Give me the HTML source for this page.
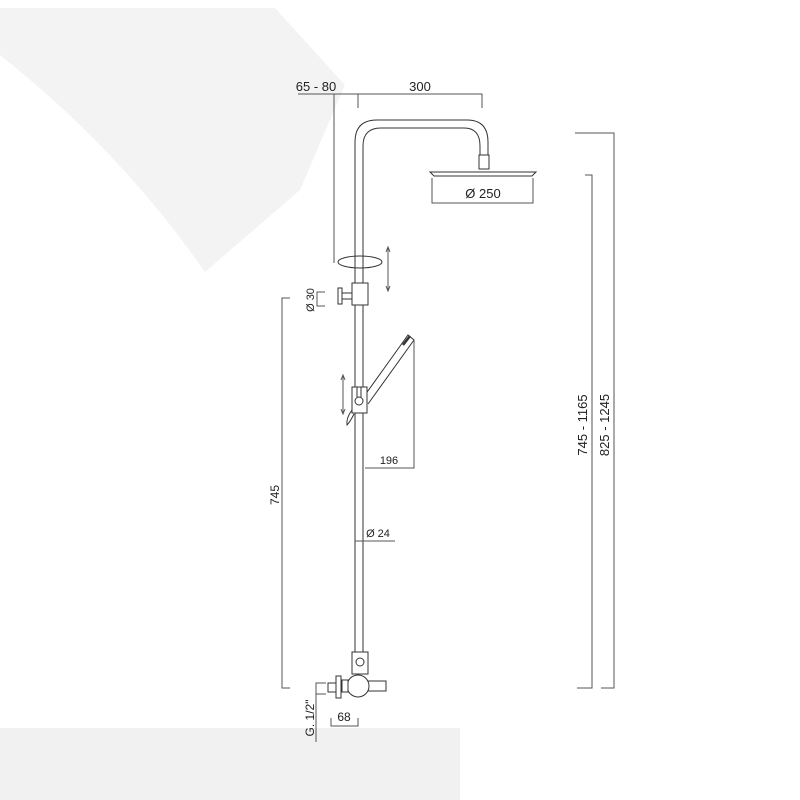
<!DOCTYPE html>
<html><head><style>body{margin:0;background:#fff}svg{display:block}text{font-family:"Liberation Sans",sans-serif;fill:#222}</style></head><body>
<svg width="800" height="800" viewBox="0 0 800 800" xmlns="http://www.w3.org/2000/svg">
<path d="M0,8 L275,8 L345,85 L300,190 L205,272 Q120,150 0,55 Z" fill="#f3f3f3"/>
<rect x="0" y="728" width="460" height="72" fill="#f1f1f1"/>
<g fill="none" stroke="#333" stroke-width="1">
<!-- pipe -->
<path d="M355,655 V142 Q355,120 377,120 H467 Q488,120 488,142 V155"/>
<path d="M363,655 V146 Q363,128 381,128 H464 Q480,128 480,146 V155"/>
<rect x="479" y="155" width="10" height="14"/>
<path d="M430,172 H536 L532,176 H434 Z"/>
<!-- top dims -->
<path d="M298,94 H482 V108 M358,94 V108 M334,94 V263" stroke="#555"/>
<path d="M432,178 V203 H533 V178" stroke="#555"/>
<ellipse cx="360" cy="262" rx="22" ry="6"/>
<path d="M388,248 V290 M386,252 L388,247 L390,252 M386,286 L388,291 L390,286" stroke="#555"/>
<!-- clamp -->
<rect x="352" y="283" width="16" height="22" fill="#fff"/>
<path d="M342,293 H352 M342,299 H352"/>
<rect x="338" y="288" width="4" height="16" fill="#fff"/>
<path d="M325,292 H317 V306 H325" stroke="#555"/>
<path d="M290,298 H282 V688 H290" stroke="#555"/>
<!-- hand shower -->
<path d="M365,395 L408,335 L414,340 L368,404"/>
<path d="M403,345 L410,336" stroke-width="2.5"/>
<rect x="352" y="387" width="15" height="26" fill="#fff"/>
<circle cx="359" cy="401" r="4"/>
<path d="M357,387 V397 M361,387 V397"/>
<path d="M352,410 Q346,418 347,425 Q350,422 354,414"/>
<path d="M343,376 V413 M341,380 L343,375 L345,380 M341,409 L343,414 L345,409" stroke="#555"/>
<path d="M365,468 H414 V340" stroke="#555"/>
<path d="M355,541 H395" stroke="#555"/>
<!-- bottom -->
<rect x="352" y="652" width="16" height="22" fill="#fff"/>
<circle cx="360" cy="662" r="4"/>
<rect x="365" y="681" width="21" height="10" fill="#fff"/>
<circle cx="358" cy="686" r="11" fill="#fff"/>
<rect x="342" y="680" width="6" height="12" fill="#fff"/>
<rect x="336" y="676" width="5" height="22" fill="#fff"/>
<rect x="328" y="683" width="8" height="9" fill="#fff"/>
<path d="M326,683 H316 V742 M316,694 H326" stroke="#555"/>
<path d="M331,718 V726 H358 V718" stroke="#555"/>
<!-- right dims -->
<path d="M575,133 H614 V688 H601" stroke="#555"/>
<path d="M585,175 H592 V688 H577" stroke="#555"/>
</g>
<text x="316" y="91" font-size="13" text-anchor="middle">65 - 80</text>
<text x="420" y="91" font-size="13" text-anchor="middle">300</text>
<text x="483" y="198" font-size="13" text-anchor="middle">Ø 250</text>
<text x="389" y="464" font-size="11" text-anchor="middle">196</text>
<text x="378" y="537" font-size="11" text-anchor="middle">Ø 24</text>
<text x="344" y="721" font-size="12" text-anchor="middle">68</text>
<text transform="translate(314,300) rotate(-90)" font-size="11" text-anchor="middle">Ø 30</text>
<text transform="translate(279,495) rotate(-90)" font-size="12" text-anchor="middle">745</text>
<text transform="translate(314,718) rotate(-90)" font-size="12" text-anchor="middle">G. 1/2"</text>
<text transform="translate(587,425) rotate(-90)" font-size="13" text-anchor="middle">745 - 1165</text>
<text transform="translate(609,425) rotate(-90)" font-size="13" text-anchor="middle">825 - 1245</text>
</svg>
</body></html>
